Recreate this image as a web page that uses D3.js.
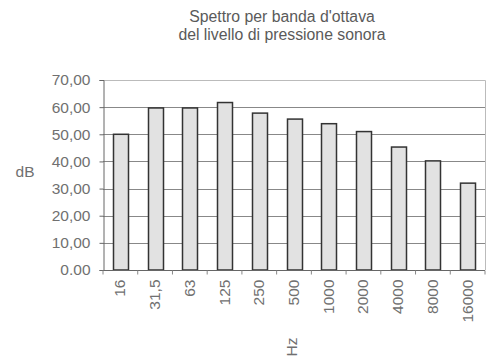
<!DOCTYPE html>
<html><head><meta charset="utf-8">
<script src="https://cdn.jsdelivr.net/npm/d3@7"></script>
<style>body{margin:0;background:#fff}svg{display:block}text{font-family:"Liberation Sans",Arial,sans-serif}</style>
</head><body><svg width="492" height="358"></svg>
<script>
const categories = ["16","31,5","63","125","250","500","1000","2000","4000","8000","16000"];
const values = [50.0, 59.7, 59.7, 61.7, 57.8, 55.6, 53.9, 51.0, 45.3, 40.2, 32.0];
const yTicks = [0,10,20,30,40,50,60,70];
const yTickLabels = ["0.00","10,00","20,00","30,00","40,00","50,00","60,00","70,00"];
const titleLines = ["Spettro per banda d'ottava","del livello di pressione sonora"];

const svg = d3.select("svg");
const m = {l:103, r:485, t:80, b:270};
const x = d3.scaleBand().domain(categories).range([m.l, m.r]).paddingInner(0.57).paddingOuter(0.285);
const y = d3.scaleLinear().domain([0,70]).range([m.b, m.t]);
const txt = "#707070";
const fs = 15.5;

// title
svg.selectAll("text.title").data(titleLines).enter().append("text")
  .attr("x", 282).attr("y", (d,i)=>22+i*18).attr("text-anchor","middle")
  .attr("font-size", 15.8).attr("fill", "#5a5a5a").text(d=>d);

// plot border (top/right)
svg.append("path").attr("d",`M${m.l},${m.t+0.5}H${m.r+0.5}V${m.b}`).attr("fill","none").attr("stroke","#bbb").attr("stroke-width",1);

// gridlines
svg.append("g").selectAll("line").data(yTicks.filter(v=>v>0 && v<70)).enter().append("line")
  .attr("x1", m.l).attr("x2", m.r).attr("y1", d=>Math.round(y(d))+0.5).attr("y2", d=>Math.round(y(d))+0.5)
  .attr("stroke","#888").attr("stroke-width",1);

// bars
svg.append("g").selectAll("rect").data(values).enter().append("rect")
  .attr("x",(d,i)=>Math.round(x(categories[i]))+0.5).attr("width", Math.round(x.bandwidth()))
  .attr("y", d=>y(d)).attr("height", d=>y(0)-y(d))
  .attr("fill","#e2e2e2").attr("stroke","#333").attr("stroke-width",1.5);

// y axis
const yAxis = d3.axisLeft(y).tickValues(yTicks).tickSize(4).tickFormat(d=>yTickLabels[yTicks.indexOf(d)]);
const gy = svg.append("g").attr("transform",`translate(${m.l+0.5},0)`).call(yAxis);
gy.select(".domain").attr("stroke","#666");
gy.selectAll(".tick line").attr("stroke","#666");
gy.selectAll(".tick text").attr("font-size",fs).attr("fill",txt).attr("x",-13)
  .attr("font-family",'"Liberation Sans",Arial,sans-serif');

// x axis
const gx = svg.append("g").attr("transform",`translate(0,${m.b+0.5})`);
gx.append("line").attr("x1",m.l).attr("x2",m.r).attr("stroke","#666");
gx.selectAll("line.t").data(d3.range(categories.length+1)).enter().append("line")
  .attr("x1",i=>m.l + i*(m.r-m.l)/categories.length).attr("x2",i=>m.l + i*(m.r-m.l)/categories.length)
  .attr("y1",0).attr("y2",4).attr("stroke","#888");
gx.selectAll("text").data(categories).enter().append("text")
  .attr("transform",d=>`translate(${x(d)+x.bandwidth()/2+5},9) rotate(-90)`)
  .attr("text-anchor","end").attr("font-size",fs).attr("fill",txt).text(d=>d);

// axis titles
svg.append("text").attr("x",25).attr("y",177).attr("text-anchor","middle").attr("font-size",fs).attr("fill",txt).text("dB");
svg.append("text").attr("transform","translate(297,347) rotate(-90)").attr("text-anchor","middle").attr("font-size",fs).attr("fill",txt).text("Hz");
</script></body></html>
